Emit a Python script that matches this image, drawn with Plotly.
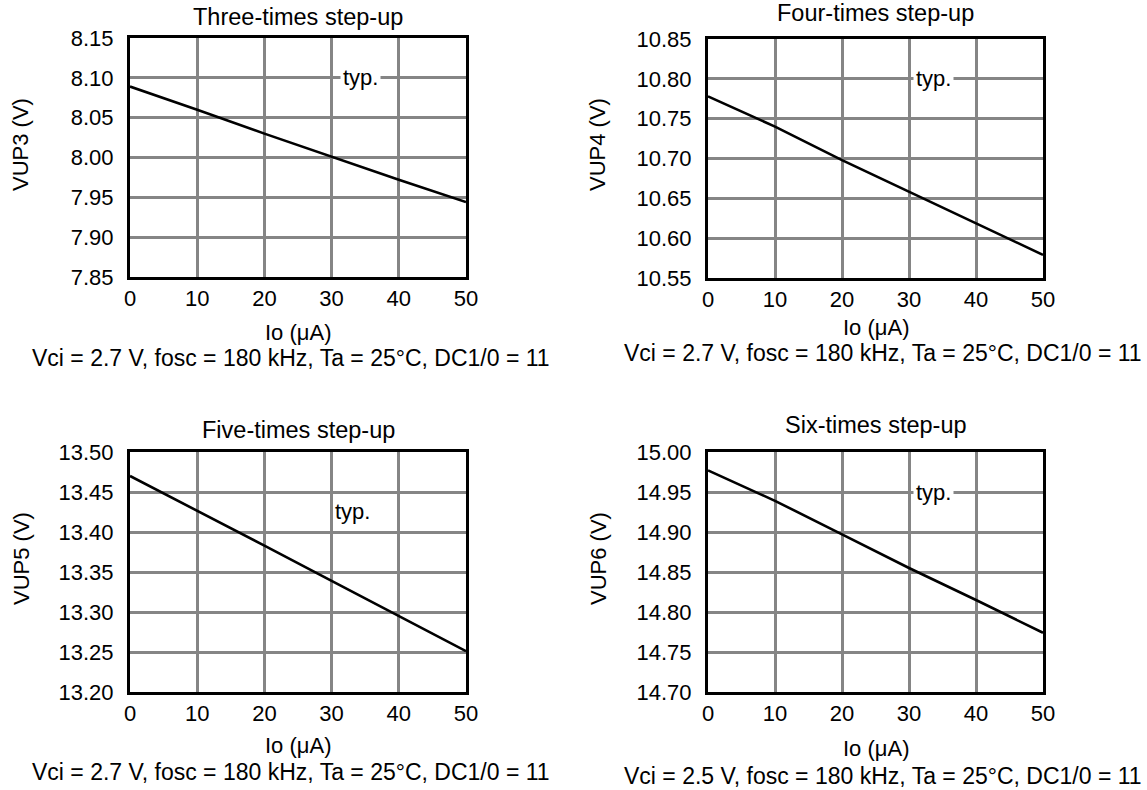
import plotly.graph_objects as go

# ---- data ----
io_uA = [0, 10, 20, 30, 40, 50]
vup3 = [8.089, 8.060, 8.030, 8.001, 7.972, 7.944]
vup4 = [10.778, 10.740, 10.698, 10.658, 10.619, 10.579]
vup5 = [13.470, 13.427, 13.383, 13.339, 13.295, 13.251]
vup6 = [14.977, 14.939, 14.897, 14.855, 14.815, 14.774]

titles = ["Three-times step-up", "Four-times step-up", "Five-times step-up", "Six-times step-up"]
ytitles = ["VUP3 (V)", "VUP4 (V)", "VUP5 (V)", "VUP6 (V)"]
notes = ["Vci = 2.7 V, fosc = 180 kHz, Ta = 25°C, DC1/0 = 11",
         "Vci = 2.7 V, fosc = 180 kHz, Ta = 25°C, DC1/0 = 11",
         "Vci = 2.7 V, fosc = 180 kHz, Ta = 25°C, DC1/0 = 11",
         "Vci = 2.5 V, fosc = 180 kHz, Ta = 25°C, DC1/0 = 11"]
yranges = [(7.85, 8.15), (10.55, 10.85), (13.20, 13.50), (14.70, 15.00)]
typ_pos = [(34.3, 8.10, True), (33.7, 10.80, True), (33.1, 13.426, False), (33.7, 14.95, True)]
series = [vup3, vup4, vup5, vup6]

W, H = 1147, 790
FONT = "Arial, Liberation Sans, sans-serif"

# pixel boxes (left, right, top, bottom)
boxes = [(130, 466, 38, 277), (708, 1043, 39, 278), (130, 466, 452, 692), (708, 1043, 452, 692)]
title_y = [17, 13, 430, 425]
xt_y = [332, 327, 745, 748]
note_y = [358, 353, 772, 776]
note_x = [291, 883, 291, 883]
ytitle_x = [21, 598, 21, 598]
ytitle_yc = [145, 145, 559, 559]

fig = go.Figure()
layout = dict(width=W, height=H, margin=dict(l=0, r=0, t=0, b=0, autoexpand=False),
              paper_bgcolor="white", plot_bgcolor="white", showlegend=False,
              font=dict(family=FONT, size=22, color="black"))
annotations = []

def px(x):
    return x / W

def py(y):
    return 1 - y / H

for i in range(4):
    n = "" if i == 0 else str(i + 1)
    l, r, t, b = boxes[i]
    fig.add_trace(go.Scatter(x=io_uA, y=series[i], mode="lines",
                             line=dict(color="black", width=2.6),
                             xaxis="x" + n, yaxis="y" + n, hoverinfo="skip"))
    layout["xaxis" + n] = dict(domain=[px(l), px(r)], anchor="y" + n, range=[0, 50],
                               dtick=10, tick0=0, showgrid=True, gridcolor="#858585", gridwidth=2.5,
                               showline=True, mirror=True, linecolor="black", linewidth=3,
                               ticks="", zeroline=False, ticklabelstandoff=0, automargin=False,
                               tickfont=dict(size=22, family=FONT, color="black"))
    layout["yaxis" + n] = dict(domain=[py(b), py(t)], anchor="x" + n, range=list(yranges[i]),
                               dtick=0.05, tick0=yranges[i][0], tickformat=".2f",
                               showgrid=True, gridcolor="#858585", gridwidth=2.5,
                               showline=True, mirror=True, linecolor="black", linewidth=3,
                               ticks="", zeroline=False, ticklabelstandoff=9, automargin=False,
                               tickfont=dict(size=22, family=FONT, color="black"))
    cx = (l + r) / 2
    annotations.append(dict(text=titles[i], x=px(cx), y=py(title_y[i]), xref="paper", yref="paper",
                            xanchor="center", yanchor="middle", showarrow=False,
                            font=dict(size=23.5, family=FONT, color="black")))
    annotations.append(dict(text="Io (μA)", x=px(cx), y=py(xt_y[i]), xref="paper", yref="paper",
                            xanchor="center", yanchor="middle", showarrow=False,
                            font=dict(size=22, family=FONT, color="black")))
    annotations.append(dict(text=notes[i], x=px(note_x[i]), y=py(note_y[i]), xref="paper", yref="paper",
                            xanchor="center", yanchor="middle", showarrow=False,
                            font=dict(size=23, family=FONT, color="black")))
    annotations.append(dict(text=ytitles[i], x=px(ytitle_x[i]), y=py(ytitle_yc[i]), xref="paper", yref="paper",
                            xanchor="center", yanchor="middle", showarrow=False, textangle=-90,
                            font=dict(size=22, family=FONT, color="black")))
    tx, ty, bg = typ_pos[i]
    a = dict(text="typ.", x=tx, y=ty, xref="x" + n, yref="y" + n,
             xanchor="center", yanchor="middle", showarrow=False,
             font=dict(size=22, family=FONT, color="black"))
    if bg:
        a.update(bgcolor="white", borderpad=2)
    annotations.append(a)

layout["annotations"] = annotations
fig.update_layout(**layout)

post = ("document.body.style.margin='0';document.body.style.overflow='hidden';")
fig.write_html("out.html", config={"displayModeBar": False}, post_script=post)
